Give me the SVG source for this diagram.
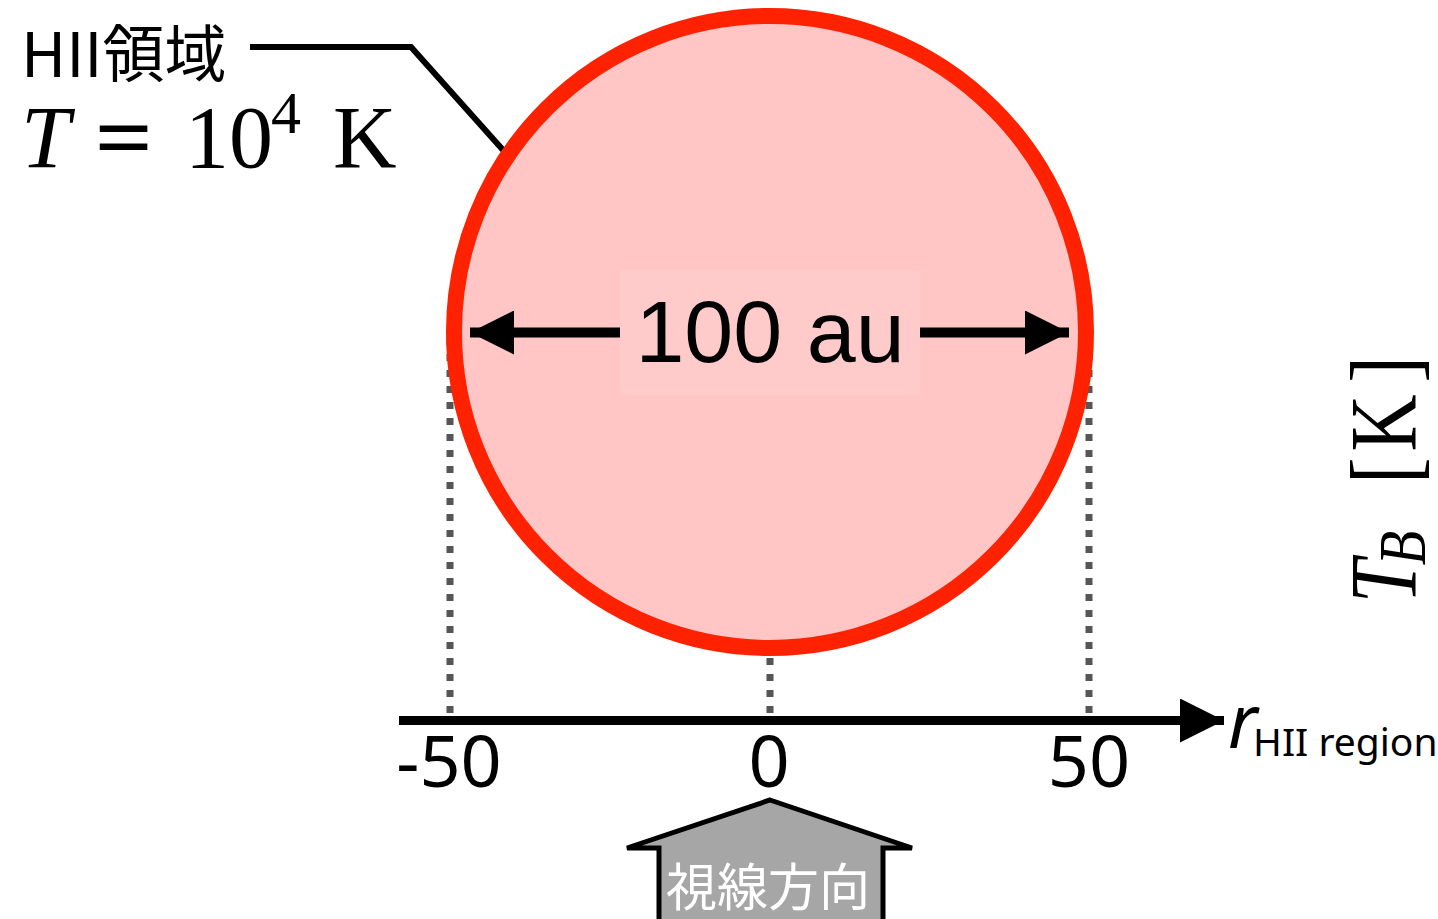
<svg xmlns="http://www.w3.org/2000/svg" width="1438" height="919" viewBox="0 0 1438 919">
<style>
.dot{stroke:#555555;stroke-width:7;stroke-dasharray:7 9;fill:none}
.blk{stroke:#000;fill:none}
.sans{font-family:"Noto Sans","Noto Sans CJK JP",sans-serif;fill:#000}
.cjk{font-family:"Noto Sans CJK JP","Noto Sans",sans-serif}
.times{font-family:"Liberation Serif","Times New Roman",serif;fill:#000}
.tick{font-family:"Noto Sans",sans-serif;font-size:72px;text-anchor:middle;fill:#000}
</style>
<defs>
<marker id="ah" viewBox="0 0 44 44" refX="44" refY="22" markerWidth="44" markerHeight="44" markerUnits="userSpaceOnUse" orient="auto-start-reverse">
<path d="M0,0 L44,22 L0,44 Z" fill="#000"/>
</marker>
</defs>
<rect width="1438" height="919" fill="#fff"/>
<g id="connectors">
<line class="dot" x1="450" y1="338" x2="450" y2="716"/>
<line class="dot" x1="1089" y1="338" x2="1089" y2="716"/>
<line class="dot" x1="770" y1="658" x2="770" y2="716"/>
<polyline class="blk" stroke-width="6" points="250,47 411,47 503,150"/>
</g>
<g id="hii-region">
<circle cx="770" cy="332" r="316" fill="#FFC6C5" stroke="#FF2200" stroke-width="16"/>
</g>
<g id="diameter">
<rect x="620" y="270" width="300" height="125" fill="#FFCBCA"/>
<line x1="620" y1="332.5" x2="470" y2="332.5" stroke="#000" stroke-width="10" marker-end="url(#ah)"/>
<line x1="920" y1="332.5" x2="1069" y2="332.5" stroke="#000" stroke-width="10" marker-end="url(#ah)"/>
<text x="770" y="362" font-family="'Liberation Sans',Arial,sans-serif" font-size="88" text-anchor="middle" fill="#000">100 au</text>
</g>
<g id="axis">
<line x1="399" y1="720.5" x2="1224" y2="720.5" stroke="#000" stroke-width="9" marker-end="url(#ah)"/>
<text class="tick" x="449" y="787">-50</text>
<text class="tick" x="769" y="787">0</text>
<text class="tick" x="1089" y="787">50</text>
<text class="sans" x="1228" y="748" font-size="74" font-style="italic">r</text>
<text class="sans" x="1253" y="756" font-size="39">HII region</text>
</g>
<g id="label-hii">
<text class="sans cjk" x="21" y="77" font-size="62">HII領域</text>
<text class="times" x="21" y="167" font-size="88" font-style="italic">T</text>
<text class="times" x="96" y="167" font-size="88" textLength="55" lengthAdjust="spacingAndGlyphs" stroke="#000" stroke-width="2">=</text>
<text class="times" x="185" y="167" font-size="88">10</text>
<text class="times" x="271" y="133" font-size="60">4</text>
<text class="times" x="333" y="167" font-size="88">K</text>
</g>
<g id="ylabel">
<text class="times" transform="translate(1416,600) rotate(-90) scale(0.83,1)" font-size="95"><tspan x="-4" font-style="italic">T</tspan><tspan x="42" dy="9" font-size="68" font-style="italic">B</tspan><tspan x="140" dy="-9">[</tspan><tspan x="179">K</tspan><tspan x="262">]</tspan></text>
</g>
<g id="line-of-sight">
<path d="M770,800 L912,848 L883,848 L883,925 L659,925 L659,848 L627,848 Z" fill="#A6A6A6" stroke="#000" stroke-width="5" stroke-linejoin="miter"/>
<text x="768" y="906" font-family="'Noto Sans CJK JP',sans-serif" font-size="51" text-anchor="middle" fill="#fff">視線方向</text>
</g>
</svg>
